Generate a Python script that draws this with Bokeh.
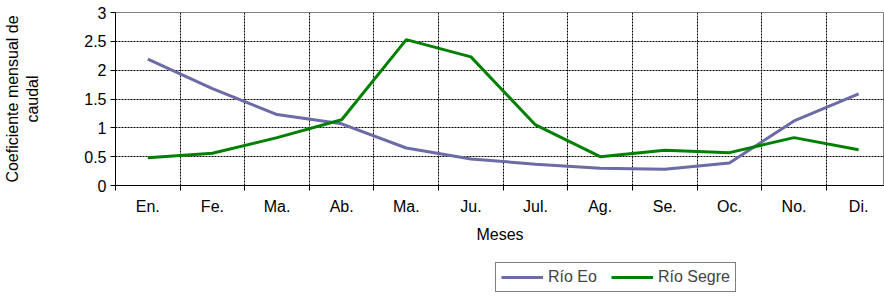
from bokeh.plotting import figure
from bokeh.models import FixedTicker, Legend, LegendItem
from bokeh.layouts import column
from bokeh.embed import file_html
from bokeh.resources import INLINE

months = ["En.", "Fe.", "Ma.", "Ab.", "Ma.", "Ju.", "Jul.", "Ag.", "Se.", "Oc.", "No.", "Di."]
rio_eo = [2.19, 1.68, 1.23, 1.07, 0.65, 0.46, 0.37, 0.30, 0.28, 0.39, 1.12, 1.59]
rio_segre = [0.48, 0.56, 0.83, 1.14, 2.53, 2.23, 1.05, 0.50, 0.61, 0.57, 0.83, 0.62]
yticks = [0, 0.5, 1, 1.5, 2, 2.5, 3]

FONT = "Liberation Sans, Arial, sans-serif"
EO_COLOR = "#6B6BA5"
SEGRE_COLOR = "#008000"
x = list(range(1, len(months) + 1))
bounds = [i + 0.5 for i in range(0, len(months) + 1)]

p = figure(width=884, height=258, output_backend="svg", toolbar_location=None,
           x_range=(0.5, 12.4), y_range=(0, 3),
           min_border_left=114, min_border_top=12, min_border_right=0, min_border_bottom=73)

p.outline_line_color = "#808080"
p.outline_line_width = 1

p.line(x, rio_eo, line_color=EO_COLOR, line_width=3)
p.line(x, rio_segre, line_color=SEGRE_COLOR, line_width=3)

p.xaxis.ticker = FixedTicker(ticks=x, minor_ticks=bounds)
p.xaxis.major_label_overrides = {i: m for i, m in zip(x, months)}
p.xaxis.major_tick_line_color = None
p.xaxis.minor_tick_out = 5
p.xaxis.minor_tick_in = 0
p.xaxis.minor_tick_line_color = "#000000"
p.xaxis.axis_line_color = "#000000"
p.xaxis.axis_label = "Meses"
p.xaxis.major_label_standoff = 6
p.xaxis.axis_label_standoff = 8

p.yaxis.ticker = FixedTicker(ticks=yticks)
p.yaxis.major_label_overrides = {0: "0", 0.5: "0.5", 1: "1", 1.5: "1.5", 2: "2", 2.5: "2.5", 3: "3"}
p.yaxis.minor_tick_line_color = None
p.yaxis.major_tick_out = 5
p.yaxis.major_tick_in = 0
p.yaxis.axis_line_color = "#000000"
p.yaxis.axis_label = "Coeficiente mensual de\ncaudal"
p.yaxis.axis_label_standoff = 40
p.yaxis.major_label_standoff = 4

for ax in (p.xaxis[0], p.yaxis[0]):
    ax.major_label_text_font = FONT
    ax.major_label_text_font_size = "16px"
    ax.major_label_text_color = "#000000"
    ax.axis_label_text_font = FONT
    ax.axis_label_text_font_size = "16px"
    ax.axis_label_text_font_style = "normal"
    ax.axis_label_text_color = "#000000"

p.xgrid.ticker = FixedTicker(ticks=bounds)
p.xgrid.grid_line_color = "#000000"
p.xgrid.grid_line_dash = "2 1"
p.xgrid.grid_line_width = 1
p.ygrid.ticker = FixedTicker(ticks=yticks[1:-1])
p.ygrid.grid_line_color = "#000000"
p.ygrid.grid_line_dash = "2 1"
p.ygrid.grid_line_width = 1

# Legend strip below the chart (its own lines lie outside its visible range)
p2 = figure(width=884, height=38, output_backend="svg", toolbar_location=None,
            x_range=(100, 101), y_range=(100, 101),
            x_axis_location=None, y_axis_location=None,
            min_border_left=0, min_border_right=0, min_border_top=0, min_border_bottom=0)
p2.outline_line_color = None
p2.grid.visible = False
r1 = p2.line(x, rio_eo, line_color=EO_COLOR, line_width=3)
r2 = p2.line(x, rio_segre, line_color=SEGRE_COLOR, line_width=3)

legend = Legend(items=[LegendItem(label="Río Eo", renderers=[r1]),
                       LegendItem(label="Río Segre", renderers=[r2])],
                orientation="horizontal", location=(380, 4))
legend.border_line_color = "#000000"
legend.border_line_width = 1
legend.label_text_font = FONT
legend.label_text_font_size = "16px"
legend.glyph_width = 42
legend.glyph_height = 12
legend.label_standoff = 5
legend.spacing = 14
legend.padding = 5
legend.margin = 0
legend.label_height = 18
p2.add_layout(legend, "center")

layout = column(p, p2)
open("out.html", "w").write(file_html(layout, INLINE))
